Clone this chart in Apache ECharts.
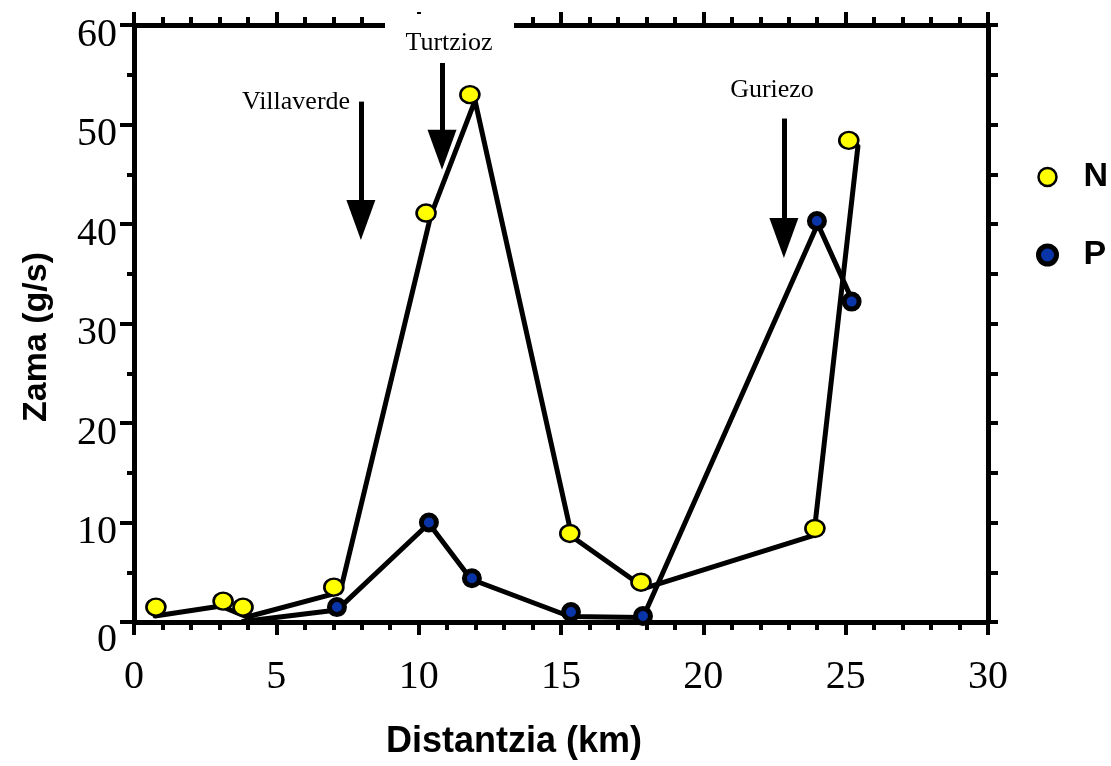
<!DOCTYPE html>
<html>
<head>
<meta charset="utf-8">
<script src="https://cdn.jsdelivr.net/npm/echarts@6/dist/echarts.min.js"></script>
<style>
html,body{margin:0;padding:0;background:#fff;}
#chart{width:1111px;height:766px;}
</style>
</head>
<body>
<div id="chart"></div>
<script>
// Marker positions [distance km, load g/s]
const nPoints = [[0.77,1.5],[3.13,2.1],[3.83,1.5],[7.02,3.5],[10.26,41.1],[11.80,53.0],[15.31,8.9],[17.81,4.0],[23.92,9.4],[25.11,48.4]];
const pPoints = [[7.13,1.5],[10.36,10.0],[11.87,4.4],[15.35,1.0],[17.88,0.6],[23.99,40.3],[25.21,32.2]];
// Connecting line vertices as drawn in the picture
const nTrace = [[0.74,0.6],[3.06,1.6],[3.97,0.5],[7.24,3.0],[10.43,40.9],[11.98,52.4],[15.38,8.6],[17.95,3.4],[23.88,8.7],[25.43,47.8]];
const pTrace = [[3.83,0.05],[7.13,1.2],[10.36,9.9],[11.84,4.3],[15.31,0.55],[17.88,0.45],[24.02,40.0],[25.22,32.4]];
// Annotation arrows: x, top of shaft, arrow-head centre (data units)
const arrows = [
  {name:'Villaverde', x:7.97, top:52.3, head:40.4},
  {name:'Turtzioz', x:10.82, top:59.5, head:47.45},
  {name:'Guriezo', x:22.83, top:50.6, head:38.6}
];
const seriesNames = ['N','P'];
const xTitle = 'Distantzia (km)';
const yTitle = 'Zama (g/s)';

const chart = echarts.init(document.getElementById('chart'), null, {renderer:'canvas'});
const black = '#000';
const serif = 'Liberation Serif';
const sans = 'Liberation Sans';
const tickStyle = {color:black, width:4};
const lineAxis = {show:true, onZero:false, lineStyle:{color:black, width:5}};

const option = {
  animation:false,
  backgroundColor:'#fff',
  grid:{left:134, right:123, top:25, bottom:144, containLabel:false},
  legend:{
    orient:'vertical', left:1031, top:155, itemWidth:22, itemHeight:18, itemGap:44,
    selectedMode:false,
    textStyle:{fontFamily:sans, fontWeight:'bold', fontSize:34, color:black, padding:[0,0,0,20]},
    data:[
      {name:seriesNames[0], icon:'circle', itemStyle:{color:'#ffff00', borderColor:black, borderWidth:2.5}},
      {name:seriesNames[1], icon:'circle', itemStyle:{color:'#0a35a8', borderColor:black, borderWidth:5}}
    ]
  },
  xAxis:[
    {type:'value', position:'bottom', min:0, max:30, interval:5,
     axisLine:lineAxis,
     axisTick:{show:true, inside:false, length:13, lineStyle:tickStyle},
     minorTick:{show:true, splitNumber:5, length:8, lineStyle:tickStyle},
     splitLine:{show:false}, minorSplitLine:{show:false},
     axisLabel:{fontFamily:serif, fontSize:40, color:black, margin:35},
     name:xTitle, nameLocation:'middle', nameGap:102,
     nameTextStyle:{fontFamily:sans, fontWeight:'bold', fontSize:36, color:black, padding:[0,94,0,0]}},
    {type:'value', position:'top', min:0, max:30, interval:5,
     axisLine:lineAxis,
     axisTick:{show:true, inside:false, length:13, lineStyle:tickStyle},
     minorTick:{show:true, splitNumber:5, length:8, lineStyle:tickStyle},
     splitLine:{show:false}, minorSplitLine:{show:false},
     axisLabel:{show:false}}
  ],
  yAxis:[
    {type:'value', position:'left', min:0, max:60, interval:10,
     axisLine:lineAxis,
     axisTick:{show:true, inside:false, length:14, lineStyle:tickStyle},
     minorTick:{show:true, splitNumber:2, length:7, lineStyle:tickStyle},
     splitLine:{show:false}, minorSplitLine:{show:false},
     axisLabel:{fontFamily:serif, fontSize:40, color:black, margin:17, padding:[20,0,0,0],
       formatter:function(v){ return v===0 ? '{z|0}' : String(v); },
       rich:{z:{fontFamily:serif, fontSize:40, color:black, padding:[16,0,0,0]}}},
     name:yTitle, nameLocation:'middle', nameGap:80, nameRotate:90,
     nameTextStyle:{fontFamily:sans, fontWeight:'bold', fontSize:34, color:black, padding:[0,27,0,0]}},
    {type:'value', position:'right', min:0, max:60, interval:5,
     axisLine:lineAxis,
     axisTick:{show:true, inside:false, length:10, lineStyle:tickStyle},
     splitLine:{show:false},
     axisLabel:{show:false}}
  ],
  graphic:[
    {type:'rect', shape:{x:385, y:14, width:129, height:49}, style:{fill:'#fff'}, z:100, silent:true},
    {type:'text', x:449, y:43, z:101, silent:true,
     style:{text:arrows[1].name, font:'26px "Liberation Serif"', fill:black, align:'center', verticalAlign:'middle'}},
    {type:'text', x:296, y:102, z:101, silent:true,
     style:{text:arrows[0].name, font:'26px "Liberation Serif"', fill:black, align:'center', verticalAlign:'middle'}},
    {type:'text', x:772, y:90, z:101, silent:true,
     style:{text:arrows[2].name, font:'26px "Liberation Serif"', fill:black, align:'center', verticalAlign:'middle'}}
  ],
  series:[
    {type:'line', name:'N-trace', data:nTrace, symbol:'none', clip:false, silent:true, z:2,
     lineStyle:{color:black, width:5, join:'round', cap:'round'},
     markLine:{silent:true, symbol:['none','triangle'], symbolSize:[29,40],
       lineStyle:{color:black, width:5, type:'solid'}, itemStyle:{color:black},
       label:{show:false}, emphasis:{disabled:true},
       data:arrows.map(a => [{coord:[a.x,a.top]},{coord:[a.x,a.head]}])}},
    {type:'line', name:'P-trace', data:pTrace, symbol:'none', clip:false, silent:true, z:2,
     lineStyle:{color:black, width:5, join:'round', cap:'round'}},
    {type:'scatter', name:seriesNames[0], data:nPoints, symbol:'circle', symbolSize:[19,17], z:3,
     itemStyle:{color:'#ffff00', borderColor:black, borderWidth:2.5, opacity:1}},
    {type:'scatter', name:seriesNames[1], data:pPoints, symbol:'circle', symbolSize:[15,15], z:3,
     itemStyle:{color:'#0a35a8', borderColor:black, borderWidth:5, opacity:1}}
  ]
};
chart.setOption(option);
</script>
</body>
</html>
